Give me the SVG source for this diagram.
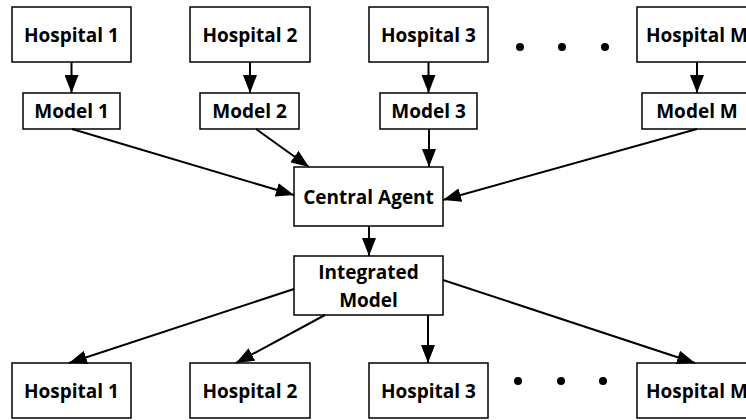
<svg xmlns="http://www.w3.org/2000/svg" width="746" height="420" viewBox="0 0 746 420">
<defs>
<marker id="ah" markerUnits="userSpaceOnUse" markerWidth="18" markerHeight="14" refX="18" refY="7" orient="auto">
<path d="M0,0 L18,7 L0,14 z" fill="#000"/>
</marker>
<style>
.box{fill:#fff;stroke:#000;stroke-width:1.5}
.t{font-family:"Open Sans","Liberation Sans",sans-serif;font-weight:bold;font-size:19px;fill:#000;text-anchor:middle}
.c line{stroke:#000;stroke-width:2;marker-end:url(#ah)}
.dot{fill:#000}
</style>
</defs>
<rect width="746" height="420" fill="#fff"/>
<g id="h1"><rect class="box" x="12" y="7" width="119" height="55"/><text class="t" x="71.5" y="41.5">Hospital 1</text></g>
<g id="h2"><rect class="box" x="190" y="7" width="120" height="55"/><text class="t" x="250" y="41.5">Hospital 2</text></g>
<g id="h3"><rect class="box" x="369" y="7" width="119" height="55"/><text class="t" x="428.5" y="41.5">Hospital 3</text></g>
<g id="hM"><rect class="box" x="637" y="7" width="120" height="55"/><text class="t" x="697" y="41.5">Hospital M</text></g>
<g id="m1"><rect class="box" x="23" y="93" width="97" height="36"/><text class="t" x="71.5" y="117.5">Model 1</text></g>
<g id="m2"><rect class="box" x="200" y="93" width="99" height="36"/><text class="t" x="249.5" y="117.5">Model 2</text></g>
<g id="m3"><rect class="box" x="380" y="93" width="97" height="36"/><text class="t" x="428.5" y="117.5">Model 3</text></g>
<g id="mM"><rect class="box" x="642" y="93" width="110" height="36"/><text class="t" x="697" y="117.5">Model M</text></g>
<g id="ca"><rect class="box" x="294" y="167" width="149" height="59"/><text class="t" x="368.5" y="203.5">Central Agent</text></g>
<g id="im"><rect class="box" x="294" y="256" width="149" height="59"/><text class="t" x="368.5" y="278.5">Integrated</text><text class="t" x="368.5" y="306.5">Model</text></g>
<g id="b1"><rect class="box" x="12" y="363" width="119" height="55"/><text class="t" x="71.5" y="397.5">Hospital 1</text></g>
<g id="b2"><rect class="box" x="190" y="363" width="120" height="55"/><text class="t" x="250" y="397.5">Hospital 2</text></g>
<g id="b3"><rect class="box" x="369" y="363" width="119" height="55"/><text class="t" x="428.5" y="397.5">Hospital 3</text></g>
<g id="bM"><rect class="box" x="637" y="363" width="120" height="55"/><text class="t" x="697" y="397.5">Hospital M</text></g>
<g id="dots">
<circle class="dot" cx="520" cy="47" r="4"/><circle class="dot" cx="562" cy="47" r="4"/><circle class="dot" cx="605" cy="47" r="4"/>
<circle class="dot" cx="518" cy="381" r="4"/><circle class="dot" cx="561" cy="381" r="4"/><circle class="dot" cx="603" cy="381" r="4"/>
</g>
<g class="c" id="connectors">
<line x1="71.5" y1="62" x2="71.5" y2="93"/>
<line x1="250" y1="62" x2="250" y2="93"/>
<line x1="428.5" y1="62" x2="428.5" y2="93"/>
<line x1="697" y1="62" x2="697" y2="93"/>
<line x1="72" y1="129" x2="294" y2="195"/>
<line x1="256" y1="129" x2="309" y2="167"/>
<line x1="429" y1="129" x2="429" y2="167"/>
<line x1="697" y1="129" x2="443" y2="200"/>
<line x1="369" y1="226" x2="369" y2="256"/>
<line x1="294" y1="289" x2="69" y2="363"/>
<line x1="325" y1="315" x2="236" y2="363"/>
<line x1="428" y1="315" x2="428" y2="363"/>
<line x1="443" y1="280" x2="695" y2="363"/>
</g>
</svg>
